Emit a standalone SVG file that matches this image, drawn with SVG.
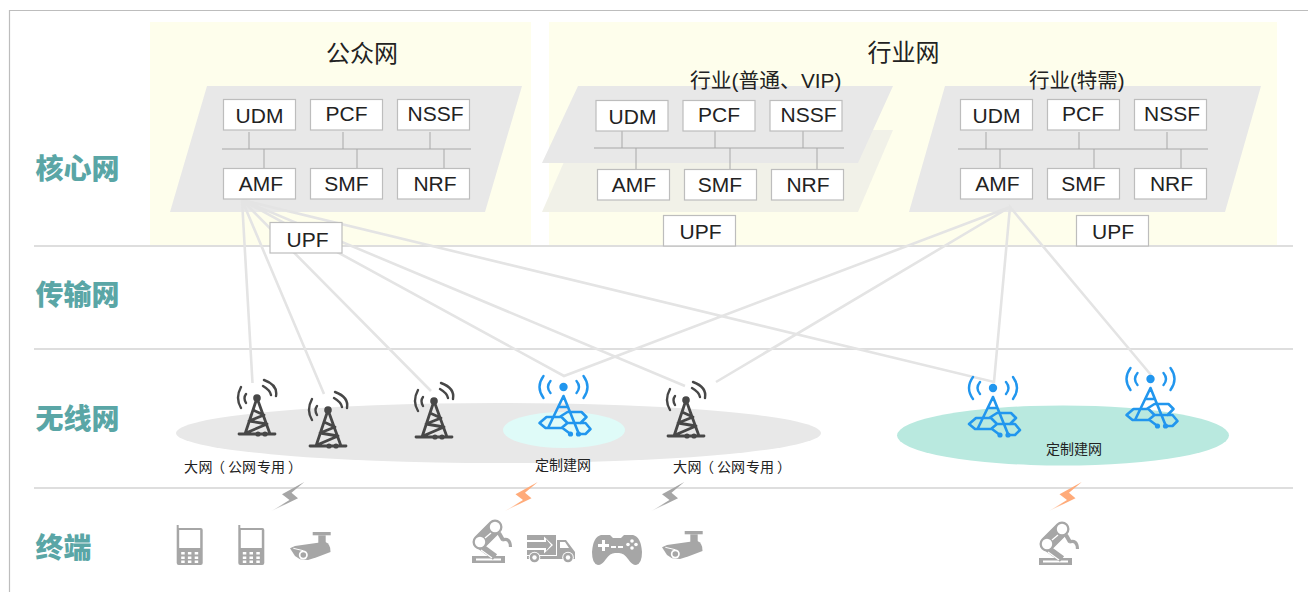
<svg xmlns="http://www.w3.org/2000/svg" width="1308" height="592" viewBox="0 0 1308 592">
<style>
.t{font-family:"Liberation Sans","Noto Sans CJK SC",sans-serif;fill:#222}
.c{font-family:"Noto Sans CJK SC",sans-serif;fill:#222}
.side{font-family:"Noto Sans CJK SC",sans-serif;font-weight:900;font-size:28px;fill:#5aa6a6}
.box{fill:#fff;stroke:#bdbdbd;stroke-width:1.2}
.lab{font-size:21px;text-anchor:middle}
.bus{stroke:#a8a8a8;stroke-width:1;fill:none}
.para{fill:#e8e8e8}
.sep{stroke:#dedede;stroke-width:2}
.conn{stroke:#e4e4e4;stroke-width:2.600;fill:none}
.small{font-size:14px}
.dk{fill:none;stroke:#474747;stroke-width:2.400;stroke-linecap:round;stroke-linejoin:round}
.bl{fill:none;stroke:#2196ee;stroke-width:2.400;stroke-linecap:round;stroke-linejoin:round}
.ic{fill:#a6a6a6}
</style>
<defs>
<linearGradient id="gg" x1="0" y1="1" x2="1" y2="0"><stop offset="0" stop-color="#a6a6a6" stop-opacity=".1"/><stop offset=".35" stop-color="#a6a6a6"/></linearGradient>
<linearGradient id="og" x1="0" y1="1" x2="1" y2="0"><stop offset="0" stop-color="#ffab7a" stop-opacity=".1"/><stop offset=".35" stop-color="#ffab7a"/></linearGradient>
<g id="tw">
<path class="dk" d="M-16 10Q-22 0-16-11M-11 5Q-14 0-11-4M7-18Q21-13 19-2M6-12Q13-8 14-3"/>
<circle r="3.800" fill="#474747"/>
<path class="dk" style="stroke-width:2.800" d="M0 0L-12 36M0 0L13 36M-18 36H18M-4 12L7 17L-8 23L10 26L-11 35"/>
<circle cx="1" cy="36" r="2.600" fill="#474747"/><circle cx="8" cy="36" r="2.600" fill="#474747"/>
</g>
<g id="tb">
<path class="bl" d="M-20 11Q-28 0-20-11M-13 6Q-18 0-13-6M20 11Q28 0 20-11M13 6Q18 0 13-6"/>
<circle r="4.200" fill="#2196ee"/>
<path class="bl" style="stroke-width:2.600" d="M0 9L-15 40M0 9L15 46M-4 20H4M-24 36L-17 30H-2L4 36L-2 41H-18ZM-4 30L4 25H18L23 30L17 36M4 36H22L27 42L22 47H15M7 47L-1 41"/>
<circle cx="7" cy="47" r="2.600" fill="#2196ee"/><circle cx="15" cy="47" r="2.600" fill="#2196ee"/>
</g>
<path id="bolt" d="M33.300 0L11 12.300L18.500 18L0 29.300L27 16.300L20.500 10.800Z"/>
<g id="phone" class="ic">
<path d="M0 0H2V3H24Q26 3 26 5V38Q26 40 24 40H2Q0 40 0 38Z"/>
<rect x="2.500" y="5" width="21" height="18" fill="#fff"/>
<g fill="#fff"><rect x="4.500" y="27" width="3.500" height="2.500"/><rect x="11.200" y="27" width="3.500" height="2.500"/><rect x="18" y="27" width="3.500" height="2.500"/><rect x="4.500" y="31.500" width="3.500" height="2.500"/><rect x="11.200" y="31.500" width="3.500" height="2.500"/><rect x="18" y="31.500" width="3.500" height="2.500"/><rect x="4.500" y="35.500" width="3.500" height="2.500"/><rect x="11.200" y="35.500" width="3.500" height="2.500"/><rect x="18" y="35.500" width="3.500" height="2.500"/></g>
</g>
<g id="cam" class="ic">
<rect x="22.700" y="0" width="18" height="3.300"/><path d="M28.300 3.300H35.700V11.300H28.300Z"/>
<path d="M0 16.300L5 14L35 9.700Q41 12 40.500 20L26.700 25.300L18 28L10 27.300L5 24Z"/>
<circle cx="13.300" cy="23" r="4.500" fill="#fff"/><circle cx="13.300" cy="23" r="2.800"/><path d="M3.300 16.300L13.300 18.700" stroke="#fff" stroke-width="1"/>
</g>
<g id="robot">
<path d="M0 36H33V43H0Z" class="ic"/><rect x="4" y="38.500" width="25" height="2" fill="#fff"/>
<path d="M8 22L23 7" stroke="#a6a6a6" stroke-width="15" stroke-linecap="round" fill="none"/>
<path d="M8 26L23 37" stroke="#a6a6a6" stroke-width="7" fill="none"/>
<path d="M9 30L20 38" stroke="#fff" stroke-width="1.200" fill="none"/>
<circle cx="8" cy="22" r="5.200" fill="#fff"/><circle cx="23" cy="7" r="5.200" fill="#fff"/>
<path d="M13 18L19 13" stroke="#fff" stroke-width="1.300"/>
<path d="M27 13L31 20" stroke="#a6a6a6" stroke-width="4" fill="none"/>
<path d="M30 20Q38 17 38.500 27" stroke="#a6a6a6" stroke-width="3.200" fill="none"/>
</g>
</defs>
<path d="M9.500 592V10.500H1308" fill="none" stroke="#bdbdbd" stroke-width="1.200"/>
<g id="panels">
<rect x="150" y="22" width="381" height="224" fill="#fefeec"/>
<rect x="549" y="22" width="728" height="224" fill="#fefeec"/>
</g>
<g id="parallelograms">
<path class="para" d="M207 86H522L485 212H170Z"/>
<path d="M578 130H893L858 212H542Z" fill="#f1f1e8"/>
<path class="para" d="M578 86H893L858 163H542Z"/>
<path class="para" d="M945 86H1261L1225 212H909Z"/>
</g>
<g id="separators">
<path class="sep" d="M34 246H1293M34 349H1293M34 488H1293"/>
</g>
<g id="ellipses">
<ellipse cx="498.500" cy="433" rx="322.500" ry="30" fill="#e8e8e8"/>
<ellipse cx="564" cy="430" rx="61" ry="18" fill="#dffbf8"/>
<ellipse cx="1063" cy="435.500" rx="166" ry="30" fill="#b9e9df"/>
</g>
<g id="connectors">
<path class="conn" d="M242 200L252.500 383M242 200L324 394M242 200L431 391M242 200L564 376L1010 207M242 200L685 386M1010 207L716 382M242 200L994 382L1010 207L1151 375"/>
</g>
<g id="core-public">
<path class="bus" d="M222 149H471M249 132V149M343 132V149M430 132V149M264 149V168M357 149V168M444 149V168"/>
<g id="pub-udm"><rect class="box" x="223.500" y="99.500" width="72" height="30.500"/><text class="t lab" x="259.500" y="123">UDM</text></g>
<g id="pub-pcf"><rect class="box" x="310.500" y="99.500" width="72" height="30.500"/><text class="t lab" x="346.500" y="121">PCF</text></g>
<g id="pub-nssf"><rect class="box" x="397.500" y="99.500" width="72" height="30.500"/><text class="t lab" x="435.500" y="121">NSSF</text></g>
<g id="pub-amf"><rect class="box" x="223.500" y="168.500" width="72" height="30.500"/><text class="t lab" x="261" y="190.500">AMF</text></g>
<g id="pub-smf"><rect class="box" x="310.500" y="168.500" width="72" height="30.500"/><text class="t lab" x="346.500" y="190.500">SMF</text></g>
<g id="pub-nrf"><rect class="box" x="397.500" y="168.500" width="72" height="30.500"/><text class="t lab" x="435" y="190.500">NRF</text></g>
<g id="pub-upf"><rect class="box" x="270" y="222.500" width="72" height="30.500"/><text class="t lab" x="307.500" y="247">UPF</text></g>
<text class="c" font-size="24" x="326" y="62">公众网</text>
</g>
<g id="core-vip">
<path class="bus" d="M594 148H844M622 131V148M715 131V148M803 131V148M636 148V169M730 148V169M817 148V169"/>
<g id="vip-udm"><rect class="box" x="596" y="100.500" width="72" height="30.500"/><text class="t lab" x="632.500" y="124">UDM</text></g>
<g id="vip-pcf"><rect class="box" x="683" y="100.500" width="72" height="30.500"/><text class="t lab" x="719" y="122">PCF</text></g>
<g id="vip-nssf"><rect class="box" x="770" y="100.500" width="72" height="30.500"/><text class="t lab" x="808.500" y="122">NSSF</text></g>
<g id="vip-amf"><rect class="box" x="597.500" y="169.500" width="72" height="30.500"/><text class="t lab" x="634" y="192">AMF</text></g>
<g id="vip-smf"><rect class="box" x="684.500" y="169.500" width="72" height="30.500"/><text class="t lab" x="720" y="192">SMF</text></g>
<g id="vip-nrf"><rect class="box" x="771.500" y="169.500" width="72" height="30.500"/><text class="t lab" x="808" y="192">NRF</text></g>
<g id="vip-upf"><rect class="box" x="663.500" y="215.500" width="72" height="30.500"/><text class="t lab" x="700.500" y="239">UPF</text></g>
<text class="t" font-size="20.800" x="690" y="88">行业(普通、VIP)</text>
</g>
<g id="core-special">
<path class="bus" d="M958 149H1208M986 132V149M1079 132V149M1167 132V149M1000 149V168M1094 149V168M1181 149V168"/>
<g id="sp-udm"><rect class="box" x="960.500" y="99.500" width="72" height="30.500"/><text class="t lab" x="996.500" y="123">UDM</text></g>
<g id="sp-pcf"><rect class="box" x="1047.500" y="99.500" width="72" height="30.500"/><text class="t lab" x="1083" y="121">PCF</text></g>
<g id="sp-nssf"><rect class="box" x="1134.500" y="99.500" width="72" height="30.500"/><text class="t lab" x="1172" y="121">NSSF</text></g>
<g id="sp-amf"><rect class="box" x="960.500" y="168.500" width="72" height="30.500"/><text class="t lab" x="997.500" y="190.500">AMF</text></g>
<g id="sp-smf"><rect class="box" x="1047.500" y="168.500" width="72" height="30.500"/><text class="t lab" x="1083.500" y="190.500">SMF</text></g>
<g id="sp-nrf"><rect class="box" x="1134.500" y="168.500" width="72" height="30.500"/><text class="t lab" x="1171.500" y="190.500">NRF</text></g>
<g id="sp-upf"><rect class="box" x="1076.500" y="215.500" width="72" height="30.500"/><text class="t lab" x="1113" y="239">UPF</text></g>
<text class="t" font-size="20.500" x="1029" y="88">行业(特需)</text>
</g>
<text class="c" font-size="24" x="867.500" y="61">行业网</text>
<g id="towers">
<use href="#tw" x="257" y="398"/><use href="#tw" x="328" y="410"/><use href="#tw" x="434" y="401"/><use href="#tw" x="686" y="400"/>
<use href="#tb" x="563.500" y="387"/><use href="#tb" x="993" y="388"/><use href="#tb" x="1150.500" y="379"/>
</g>
<g id="net-labels">
<text class="c small" x="184 198.500 211 228 242 257 271 288" y="472">大网（公网专用）</text>
<text class="c small" x="673 687.500 700 717 731 746 760 777" y="472">大网（公网专用）</text>
<text class="c small" x="535" y="470">定制建网</text>
<text class="c small" x="1046" y="454">定制建网</text>
</g>
<g id="side-labels">
<text class="side" x="35.500" y="179">核心网</text>
<text class="side" x="35.500" y="304.500">传输网</text>
<text class="side" x="35.500" y="428.500">无线网</text>
<text class="side" x="35.500" y="558">终端</text>
</g>
<g id="bolts">
<use href="#bolt" x="271" y="482" fill="url(#gg)"/>
<use href="#bolt" x="504.500" y="482" fill="url(#og)"/>
<use href="#bolt" x="651" y="482" fill="url(#gg)"/>
<use href="#bolt" x="1048.500" y="482" fill="url(#og)"/>
</g>
<g id="terminals">
<use href="#phone" x="176.700" y="525"/>
<use href="#phone" x="238.300" y="525"/>
<use href="#cam" x="290" y="532"/>
<use href="#cam" x="662" y="531"/>
<use href="#robot" x="472" y="520"/>
<use href="#robot" x="1039" y="522"/>
<g id="truck" class="ic">
<path d="M527 535H556V555H527Z"/>
<path d="M527 540H544V536.500L553 545L544 553.500V550H527Z" fill="#fff"/>
<path d="M527 542H546V539L551 545L546 551V548H527Z"/>
<path d="M557 540H566L572 548L575 552V559H557Z"/>
<path d="M560 542H565L569 548H560Z" fill="#fff"/>
<path d="M527 556H557V559H527Z"/>
<circle cx="534.500" cy="557.500" r="5.800" fill="#fff"/><circle cx="534.500" cy="557.500" r="4.800"/><circle cx="534.500" cy="557.500" r="2.200" fill="#fff"/>
<circle cx="568" cy="557.500" r="5.800" fill="#fff"/><circle cx="568" cy="557.500" r="4.800"/><circle cx="568" cy="557.500" r="2.200" fill="#fff"/>
</g>
<g id="gamepad" class="ic">
<path d="M601 535H610L613 538H621L624 535H633Q641 537 642 552Q642 564 636 565Q632 565 628 559Q624 553 619 553H615Q610 553 606 559Q602 565 598 565Q592 564 592 552Q593 537 601 535Z"/>
<path d="M598 544H602V540H605V544H609V547H605V551H602V547H598Z" fill="#fff"/>
<path d="M611 546H616V548H611ZM618 546H623V548H618Z" fill="#fff"/>
<g fill="#fff"><circle cx="632" cy="541" r="1.800"/><circle cx="628" cy="544.500" r="1.800"/><circle cx="636" cy="544.500" r="1.800"/><circle cx="632" cy="548" r="1.800"/></g>
</g>
</g>
</svg>
